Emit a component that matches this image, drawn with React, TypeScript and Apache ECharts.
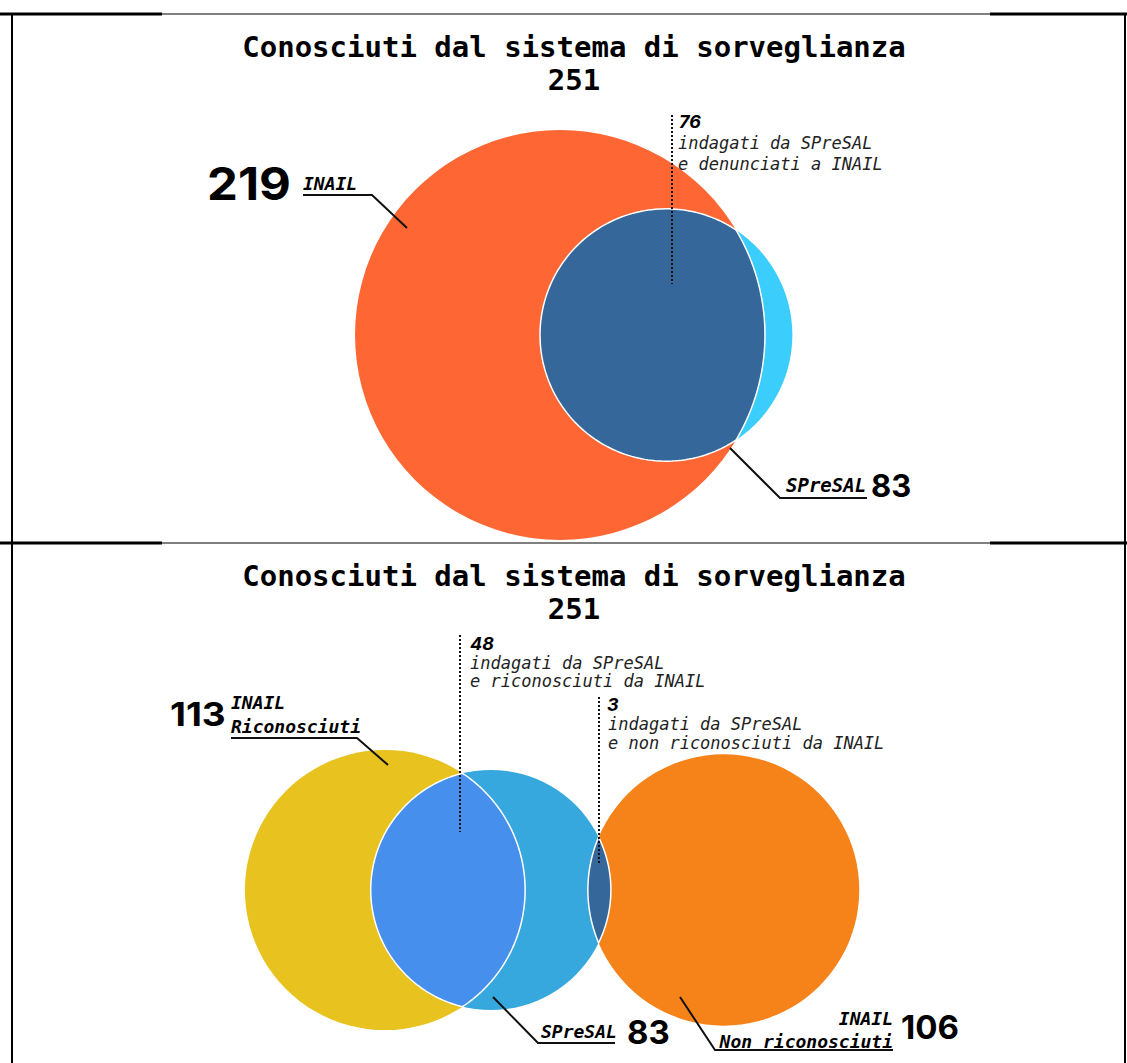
import React, { useEffect, useRef } from "react";
import * as echarts from "echarts";

const W = 1127;
const H = 1063;

// ---------- data ----------
const TITLE = "Conosciuti dal sistema di sorveglianza";
const totalKnown = 251;

const topSetNames = ["INAIL", "SPreSAL"];
const topSetValues = [219, 83];
const topOverlapValue = 76;
const topOverlapText = ["indagati da SPreSAL", "e denunciati a INAIL"];

const bottomSetNames = ["INAIL\nRiconosciuti", "SPreSAL", "INAIL\nNon riconosciuti"];
const bottomSetValues = [113, 83, 106];
const bottomOverlapValues = [48, 3];
const bottomOverlapTexts = [
  ["indagati da SPreSAL", "e riconosciuti da INAIL"],
  ["indagati da SPreSAL", "e non riconosciuti da INAIL"],
];

// ---------- styling / layout ----------
const topColors = ["#FE6634", "#3BCDFB"];
const topLensColor = "#35679A";
const bottomColors = ["#E8C320", "#36A8DE", "#F6821A"];
const bottomLensColors = ["#468FEC", "#35679A"];

const TOP_K = 13.85; // px per sqrt(unit)
const BOTTOM_K = 13.18;
const TOP_ANCHOR = [560, 335];
const BOTTOM_ANCHOR = [385, 890];

const MONO = '"DejaVu Sans Mono", monospace';
const SANS = 'Inter, Roboto, sans-serif';

function lensArea(r1: number, r2: number, d: number) {
  if (d >= r1 + r2) return 0;
  if (d <= Math.abs(r1 - r2)) return Math.PI * Math.min(r1, r2) ** 2;
  const a = r1 * r1 * Math.acos((d * d + r1 * r1 - r2 * r2) / (2 * d * r1));
  const b = r2 * r2 * Math.acos((d * d + r2 * r2 - r1 * r1) / (2 * d * r2));
  const c = 0.5 * Math.sqrt((-d + r1 + r2) * (d + r1 - r2) * (d - r1 + r2) * (d + r1 + r2));
  return a + b - c;
}
function distanceFor(r1: number, r2: number, area: number) {
  let lo = Math.abs(r1 - r2);
  let hi = r1 + r2;
  for (let i = 0; i < 80; i++) {
    const m = (lo + hi) / 2;
    if (lensArea(r1, r2, m) > area) lo = m;
    else hi = m;
  }
  return (lo + hi) / 2;
}

function layoutChain(values: number[], overlaps: number[], k: number, anchor: number[]) {
  const circles: number[][] = [];
  let x = anchor[0];
  values.forEach((v, i) => {
    const r = k * Math.sqrt(v);
    if (i > 0) {
      const rPrev = circles[i - 1][2];
      x += distanceFor(rPrev, r, overlaps[i - 1] * Math.PI * k * k);
    }
    circles.push([x, anchor[1], r]);
  });
  return circles;
}

const topCircles = layoutChain(topSetValues, [topOverlapValue], TOP_K, TOP_ANCHOR);
const bottomCircles = layoutChain(bottomSetValues, bottomOverlapValues, BOTTOM_K, BOTTOM_ANCHOR);

const circleData = [...topCircles, ...bottomCircles];
const circleColors = [...topColors, ...bottomColors];
const lensData = [
  [...topCircles[0], ...topCircles[1]],
  [...bottomCircles[0], ...bottomCircles[1]],
  [...bottomCircles[1], ...bottomCircles[2]],
];
const lensColors = [topLensColor, ...bottomLensColors];

function lensPoints(c1: number[], r1: number, c2: number[], r2: number) {
  const dx = c2[0] - c1[0];
  const dy = c2[1] - c1[1];
  const d = Math.sqrt(dx * dx + dy * dy);
  const th = Math.atan2(dy, dx);
  const a = Math.acos((d * d + r1 * r1 - r2 * r2) / (2 * d * r1));
  const b = Math.acos((d * d + r2 * r2 - r1 * r1) / (2 * d * r2));
  const pts: number[][] = [];
  const N = 160;
  for (let i = 0; i <= N; i++) {
    const t = th - a + (2 * a * i) / N;
    pts.push([c1[0] + r1 * Math.cos(t), c1[1] + r1 * Math.sin(t)]);
  }
  for (let i = 0; i <= N; i++) {
    const t = th + Math.PI - b + (2 * b * i) / N;
    pts.push([c2[0] + r2 * Math.cos(t), c2[1] + r2 * Math.sin(t)]);
  }
  return pts;
}

// ---------- graphic helpers ----------
function txt(x: number, y: number, text: string, size: number, family: string, opts: any = {}) {
  return {
    type: "text",
    z: 10,
    x,
    y,
    scaleX: opts.scaleX || 1,
    style: {
      x: 0,
      y: 0,
      text,
      fontSize: size,
      fontFamily: family,
      fontWeight: opts.weight || "normal",
      fontStyle: opts.style || "normal",
      fill: opts.fill || "#000",
      textAlign: opts.align || "left",
      textVerticalAlign: "middle",
    },
  };
}
function pline(points: number[][], width = 2, dash?: number[]) {
  return {
    type: "polyline",
    z: 10,
    shape: { points },
    style: { stroke: "#111", lineWidth: width, fill: null, lineDash: dash || null },
  };
}
function hline(x1: number, x2: number, y: number, w: number) {
  return { type: "line", z: 10, shape: { x1, y1: y, x2, y2: y }, style: { stroke: "#000", lineWidth: w } };
}
function vline(x: number, y1: number, y2: number, w: number) {
  return { type: "line", z: 10, shape: { x1: x, y1, x2: x, y2 }, style: { stroke: "#000", lineWidth: w } };
}

function buildGraphics() {
  const g: any[] = [];
  // table frame
  [14, 543].forEach((y) => {
    g.push(hline(0, 162, y, 3));
    g.push(hline(162, 990, y, 1.2));
    g.push(hline(990, W, y, 3));
  });
  g.push(vline(12, 14, H, 2));
  g.push(vline(1125, 14, H, 2));

  const off = 529;
  [0, off].forEach((o) => {
    g.push(txt(574, 47 + o, TITLE, 29, MONO, { weight: "bold", align: "center" }));
    g.push(txt(574, 80 + o, String(totalKnown), 29, MONO, { weight: "bold", align: "center" }));
  });

  // ---- top labels ----
  g.push(txt(207, 183, String(topSetValues[0]), 45, SANS, { weight: "bold", scaleX: 1.09 }));
  g.push(txt(303, 183, topSetNames[0], 18, MONO, { weight: "bold", style: "italic" }));
  g.push(pline([[303, 195], [372, 195], [407, 228]]));

  g.push(pline([[672, 115], [672, 284]], 2, [2, 2]));
  g.push(txt(679, 121, String(topOverlapValue), 18, SANS, { weight: "bold", style: "italic" }));
  g.push(txt(678, 143, topOverlapText[0], 17, MONO, { style: "italic", fill: "#222" }));
  g.push(txt(678, 164, topOverlapText[1], 17, MONO, { style: "italic", fill: "#222" }));

  g.push(pline([[730, 448], [780, 498], [867, 498]]));
  g.push(txt(786, 485, topSetNames[1], 19, MONO, { weight: "bold", style: "italic" }));
  g.push(txt(871, 485, String(topSetValues[1]), 31, SANS, { weight: "bold" }));

  // ---- bottom labels ----
  const [b0a, b0b] = bottomSetNames[0].split("\n");
  g.push(txt(170, 714, String(bottomSetValues[0]), 33, SANS, { weight: "bold", scaleX: 1.12 }));
  g.push(txt(231, 702, b0a, 18, MONO, { weight: "bold", style: "italic" }));
  g.push(txt(231, 726, b0b, 18, MONO, { weight: "bold", style: "italic" }));
  g.push(pline([[231, 738], [357, 738], [388, 765]]));

  g.push(pline([[460, 635], [460, 832]], 2, [2, 2]));
  g.push(txt(470, 643, String(bottomOverlapValues[0]), 18, SANS, { weight: "bold", style: "italic" }));
  g.push(txt(470, 663, bottomOverlapTexts[0][0], 17, MONO, { style: "italic", fill: "#222" }));
  g.push(txt(470, 681, bottomOverlapTexts[0][1], 17, MONO, { style: "italic", fill: "#222" }));

  g.push(pline([[599, 697], [599, 863]], 2, [2, 2]));
  g.push(txt(607, 704, String(bottomOverlapValues[1]), 18, SANS, { weight: "bold", style: "italic" }));
  g.push(txt(608, 724, bottomOverlapTexts[1][0], 17, MONO, { style: "italic", fill: "#222" }));
  g.push(txt(608, 743, bottomOverlapTexts[1][1], 17, MONO, { style: "italic", fill: "#222" }));

  g.push(pline([[493, 997], [538, 1043], [615, 1043]]));
  g.push(txt(541, 1031, bottomSetNames[1], 18, MONO, { weight: "bold", style: "italic" }));
  g.push(txt(627, 1032, String(bottomSetValues[1]), 33, SANS, { weight: "bold" }));

  const [b2a, b2b] = bottomSetNames[2].split("\n");
  g.push(pline([[680, 997], [715, 1050], [893, 1050]]));
  g.push(txt(893, 1018, b2a, 18, MONO, { weight: "bold", style: "italic", align: "right" }));
  g.push(txt(893, 1041, b2b, 18, MONO, { weight: "bold", style: "italic", align: "right" }));
  g.push(txt(901, 1027, String(bottomSetValues[2]), 33, SANS, { weight: "bold" }));
  return g;
}

export default function App() {
  const ref = useRef<HTMLDivElement>(null);
  useEffect(() => {
    if (!ref.current) return;
    const chart = echarts.init(ref.current, null, { renderer: "svg" });
    chart.setOption({
      animation: false,
      backgroundColor: "#fff",
      grid: { left: 0, top: 0, right: 0, bottom: 0 },
      xAxis: { type: "value", min: 0, max: W, show: false },
      yAxis: { type: "value", min: 0, max: H, inverse: true, show: false },
      series: [
        {
          type: "custom",
          name: "sets",
          clip: false,
          data: circleData,
          renderItem: (params: any, api: any) => {
            const c = api.coord([api.value(0), api.value(1)]);
            const s = api.size([api.value(2), api.value(2)]);
            return {
              type: "circle",
              shape: { cx: c[0], cy: c[1], r: Math.abs(s[0]) },
              style: { fill: circleColors[params.dataIndex] },
            };
          },
        },
        {
          type: "custom",
          name: "overlaps",
          clip: false,
          data: lensData,
          renderItem: (params: any, api: any) => {
            const c1 = api.coord([api.value(0), api.value(1)]);
            const r1 = Math.abs(api.size([api.value(2), 0])[0]);
            const c2 = api.coord([api.value(3), api.value(4)]);
            const r2 = Math.abs(api.size([api.value(5), 0])[0]);
            return {
              type: "polygon",
              shape: { points: lensPoints(c1, r1, c2, r2) },
              style: { fill: lensColors[params.dataIndex], stroke: "#fff", lineWidth: 1.5 },
            };
          },
        },
      ],
      graphic: buildGraphics(),
    });
    return () => chart.dispose();
  }, []);
  return (
    <div
      ref={ref}
      style={{ position: "absolute", left: 0, top: 0, width: W, height: H, background: "#fff" }}
    />
  );
}
